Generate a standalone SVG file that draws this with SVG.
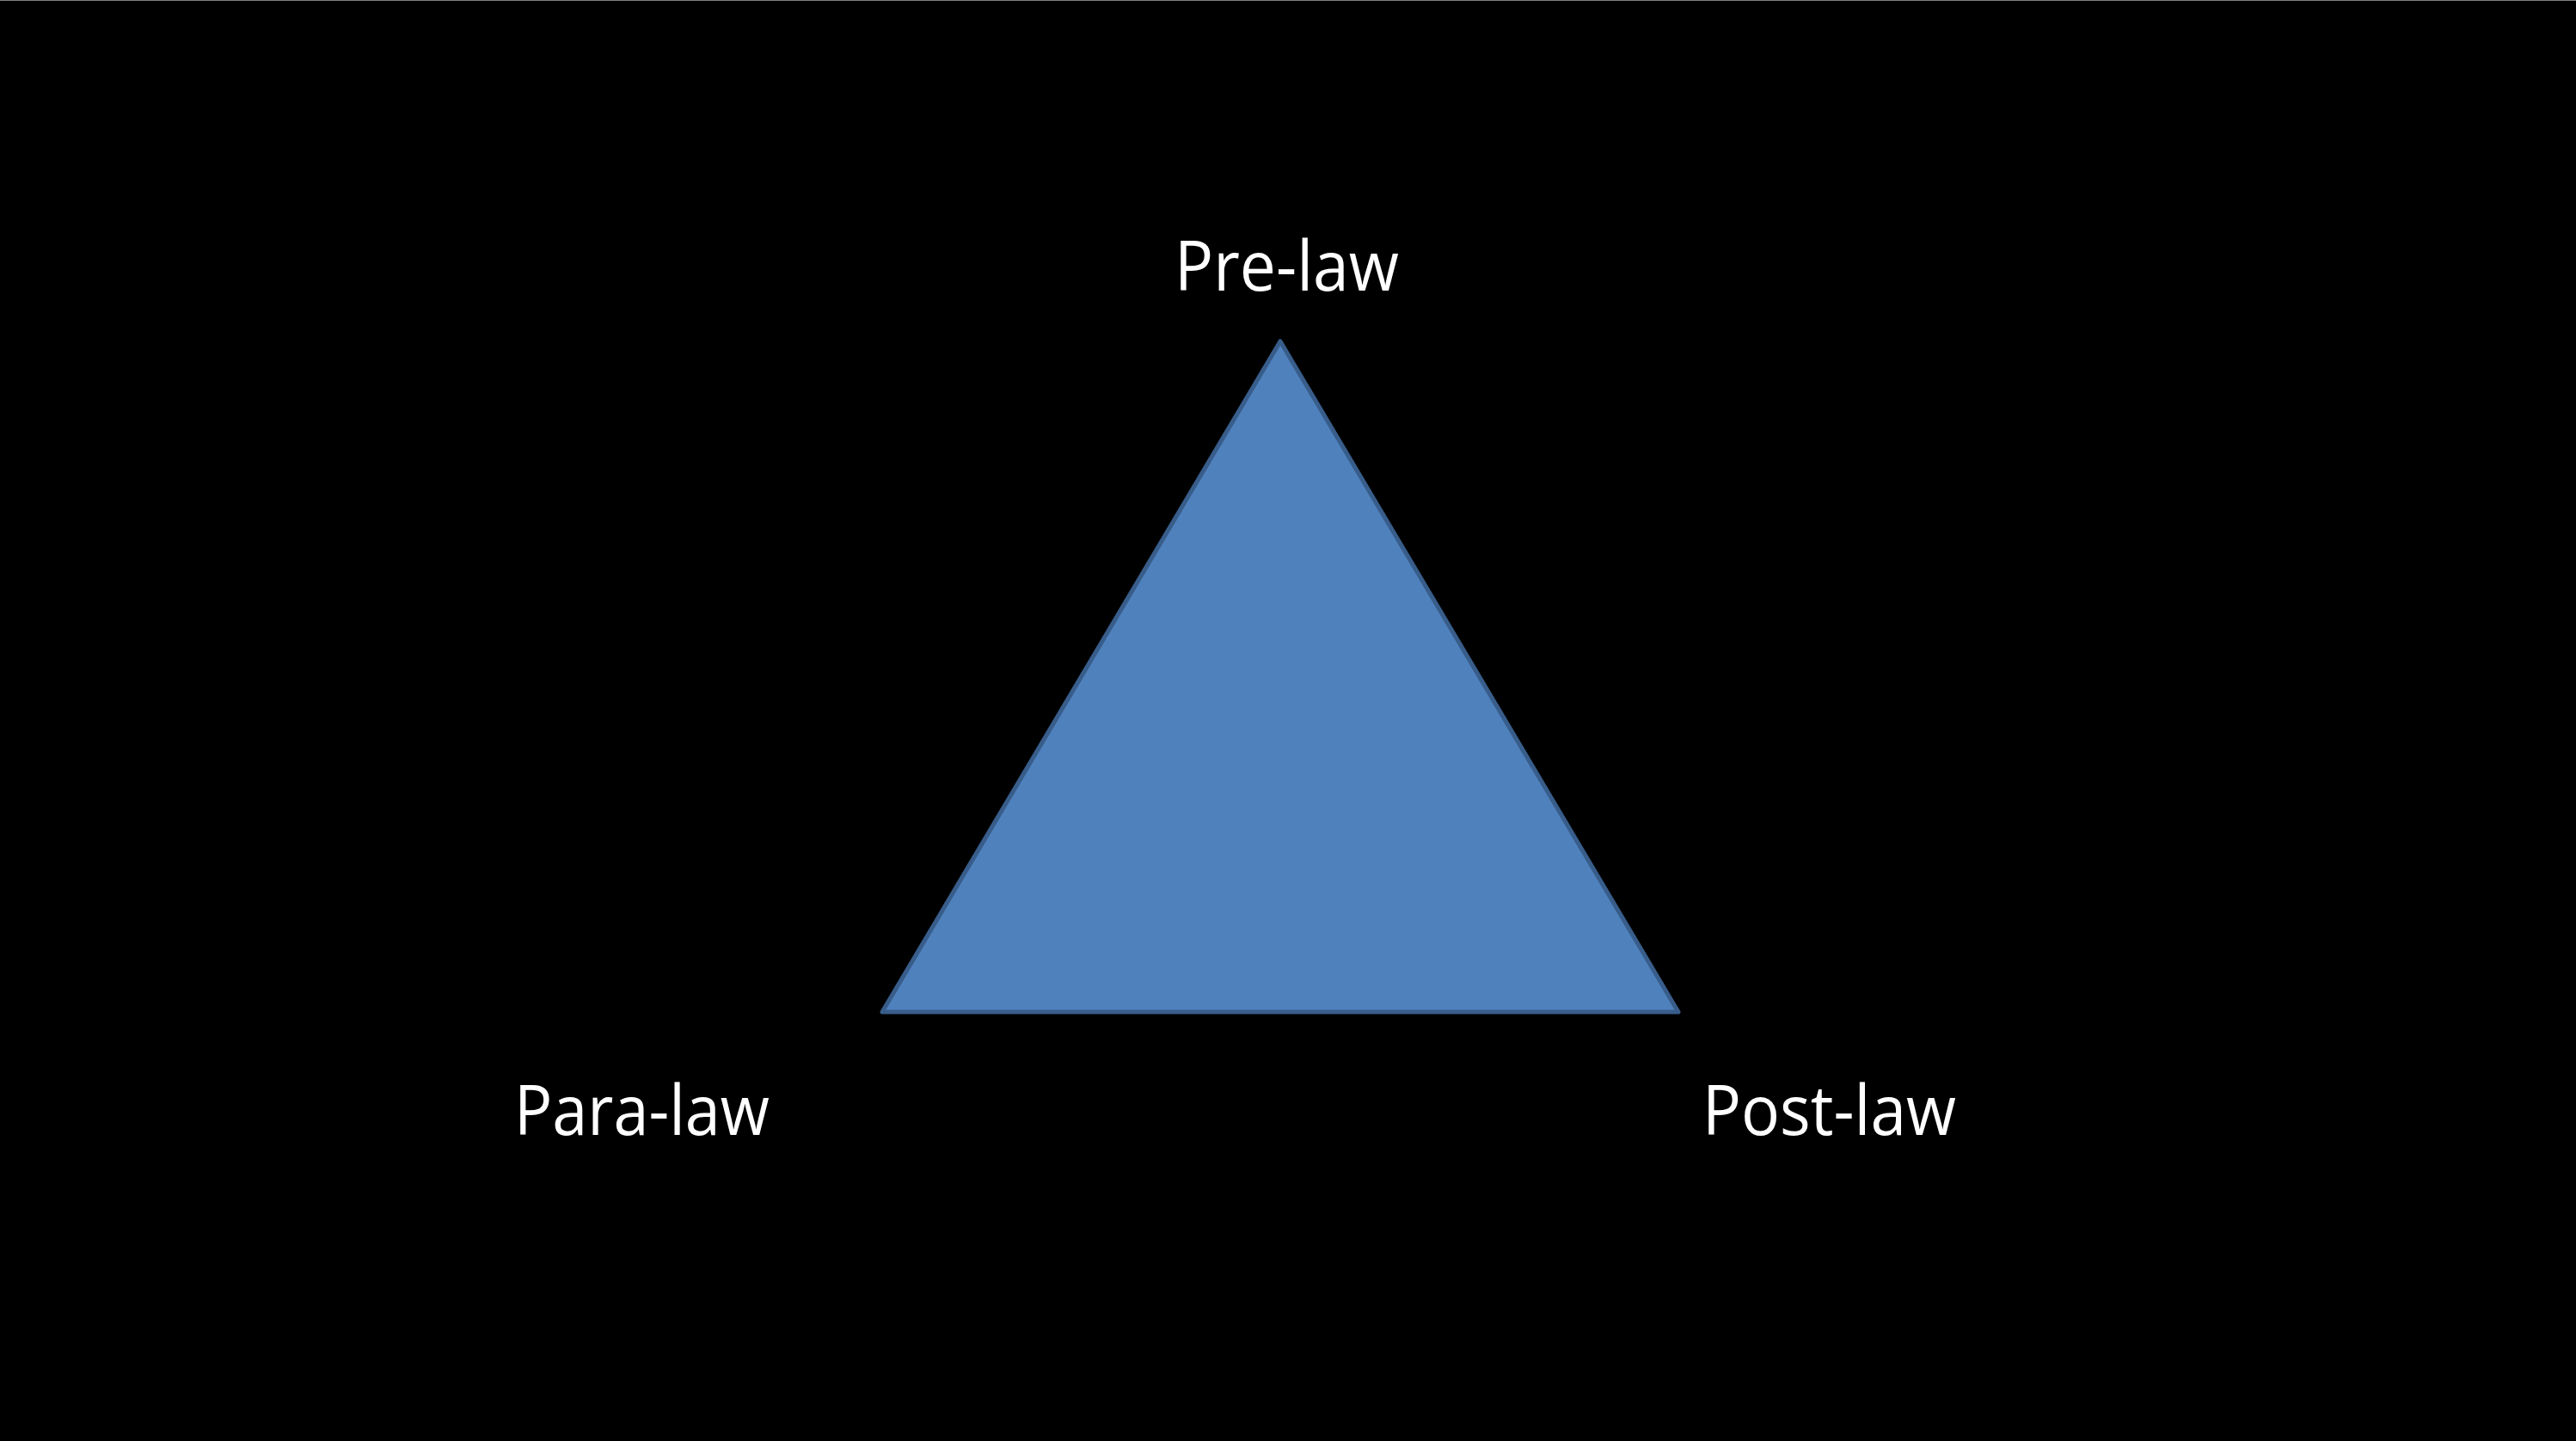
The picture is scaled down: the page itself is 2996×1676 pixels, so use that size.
<svg xmlns="http://www.w3.org/2000/svg" width="2996" height="1676" viewBox="0 0 2996 1676">
<style>
.lbl{font-family:"Open Sans","Noto Sans","Liberation Sans",sans-serif;font-size:80px;fill:#ffffff;}
.tri{fill:#4f81bd;stroke:#385d8a;stroke-width:5;stroke-linejoin:round;}
</style>
<rect x="0" y="0" width="2996" height="1676" fill="#000000"/>
<line x1="0" y1="0.5" x2="2996" y2="0.5" stroke="#7f7f7f" stroke-width="1"/>
<g id="triangle">
<polygon class="tri" points="1489,397 1952,1177 1026,1177"/>
</g>
<g id="pre-law">
<text class="lbl" x="1366" y="338" textLength="261" lengthAdjust="spacingAndGlyphs">Pre-law</text>
</g>
<g id="para-law">
<text class="lbl" x="598" y="1320" textLength="297" lengthAdjust="spacingAndGlyphs">Para-law</text>
</g>
<g id="post-law">
<text class="lbl" x="1980" y="1320" textLength="295" lengthAdjust="spacingAndGlyphs">Post-law</text>
</g>
<g id="connectors"></g>
</svg>
